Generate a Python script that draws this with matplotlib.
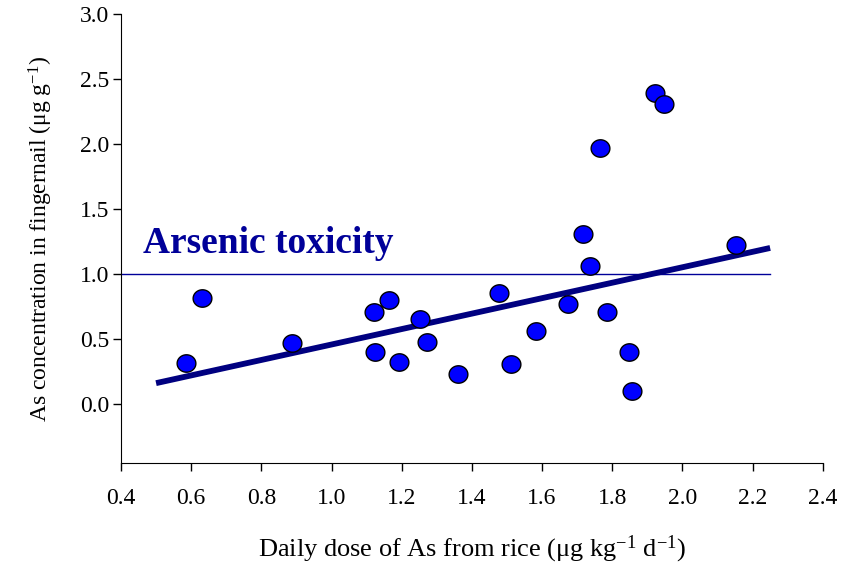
import matplotlib
matplotlib.use("Agg")
import matplotlib.pyplot as plt
from matplotlib.path import Path
import numpy as np

plt.rcParams['font.family'] = ['Liberation Serif', 'DejaVu Serif']
plt.rcParams['mathtext.fontset'] = 'custom'
plt.rcParams['mathtext.rm'] = 'Liberation Serif'
plt.rcParams['mathtext.it'] = 'Liberation Serif:italic'
plt.rcParams['mathtext.bf'] = 'Liberation Serif:bold'

# Data
dose = [0.585, 0.631, 0.887, 1.121, 1.164, 1.124, 1.192, 1.252, 1.272, 1.360,
        1.477, 1.511, 1.582, 1.673, 1.716, 1.736, 1.765, 1.785, 1.847, 1.856,
        1.921, 1.947, 2.152]
nail = [0.315, 0.815, 0.47, 0.71, 0.80, 0.40, 0.32, 0.654, 0.477, 0.23,
        0.854, 0.31, 0.56, 0.77, 1.31, 1.06, 1.97, 0.71, 0.40, 0.10,
        2.39, 2.31, 1.22]
trend_x = [0.5, 2.25]
trend_y = [0.16, 1.20]
tox_level = 1.0
tox_x = [0.4, 2.25]
xticks = [0.4, 0.6, 0.8, 1.0, 1.2, 1.4, 1.6, 1.8, 2.0, 2.2, 2.4]
yticks = [0.0, 0.5, 1.0, 1.5, 2.0, 2.5, 3.0]

# slightly wide ellipse marker
t = np.linspace(0, 2 * np.pi, 60)
ellipse = Path(np.column_stack([np.cos(t), 0.93 * np.sin(t)]), closed=True)

fig = plt.figure(figsize=(8.43, 5.71), dpi=100)
ax = fig.add_axes([0.1435, 0.189, 0.8325, 0.7865])

ax.plot(tox_x, [tox_level, tox_level], color='#000099', lw=1.0, zorder=2)
ax.plot(trend_x, trend_y, color='#000080', lw=4.2, solid_capstyle='butt', zorder=3)
ax.plot(dose, nail, linestyle='none', marker=ellipse, markersize=13.5,
        markerfacecolor='#0000FF', markeredgecolor='black', markeredgewidth=1.0, zorder=4)

ax.text(0.463, 1.1, 'Arsenic toxicity', color='#000099', fontsize=27,
        fontweight='bold', ha='left', va='bottom')

ax.set_xlim(0.4, 2.4)
ax.set_ylim(-0.455, 3.0)
ax.set_xticks(xticks)
ax.set_xticklabels([f'{v:.1f}' for v in xticks])
ax.set_yticks(yticks)
ax.set_yticklabels([f'{v:.1f}' for v in yticks])
ax.spines['top'].set_visible(False)
ax.spines['right'].set_visible(False)
ax.tick_params(direction='out', length=6, width=1, labelsize=17)
ax.tick_params(axis='x', pad=12)
ax.tick_params(axis='y', pad=2.5)

ax.set_xlabel(r'Daily dose of As from rice ($\mathregular{\mu}$g kg$^{\mathregular{-1}}$ d$^{\mathregular{-1}}$)',
              fontsize=19, labelpad=18)
ax.set_ylabel(r'As concentration in fingernail ($\mathregular{\mu}$g g$^{\mathregular{-1}}$)',
              fontsize=17, labelpad=18)

fig.savefig('out.png', dpi=100)
